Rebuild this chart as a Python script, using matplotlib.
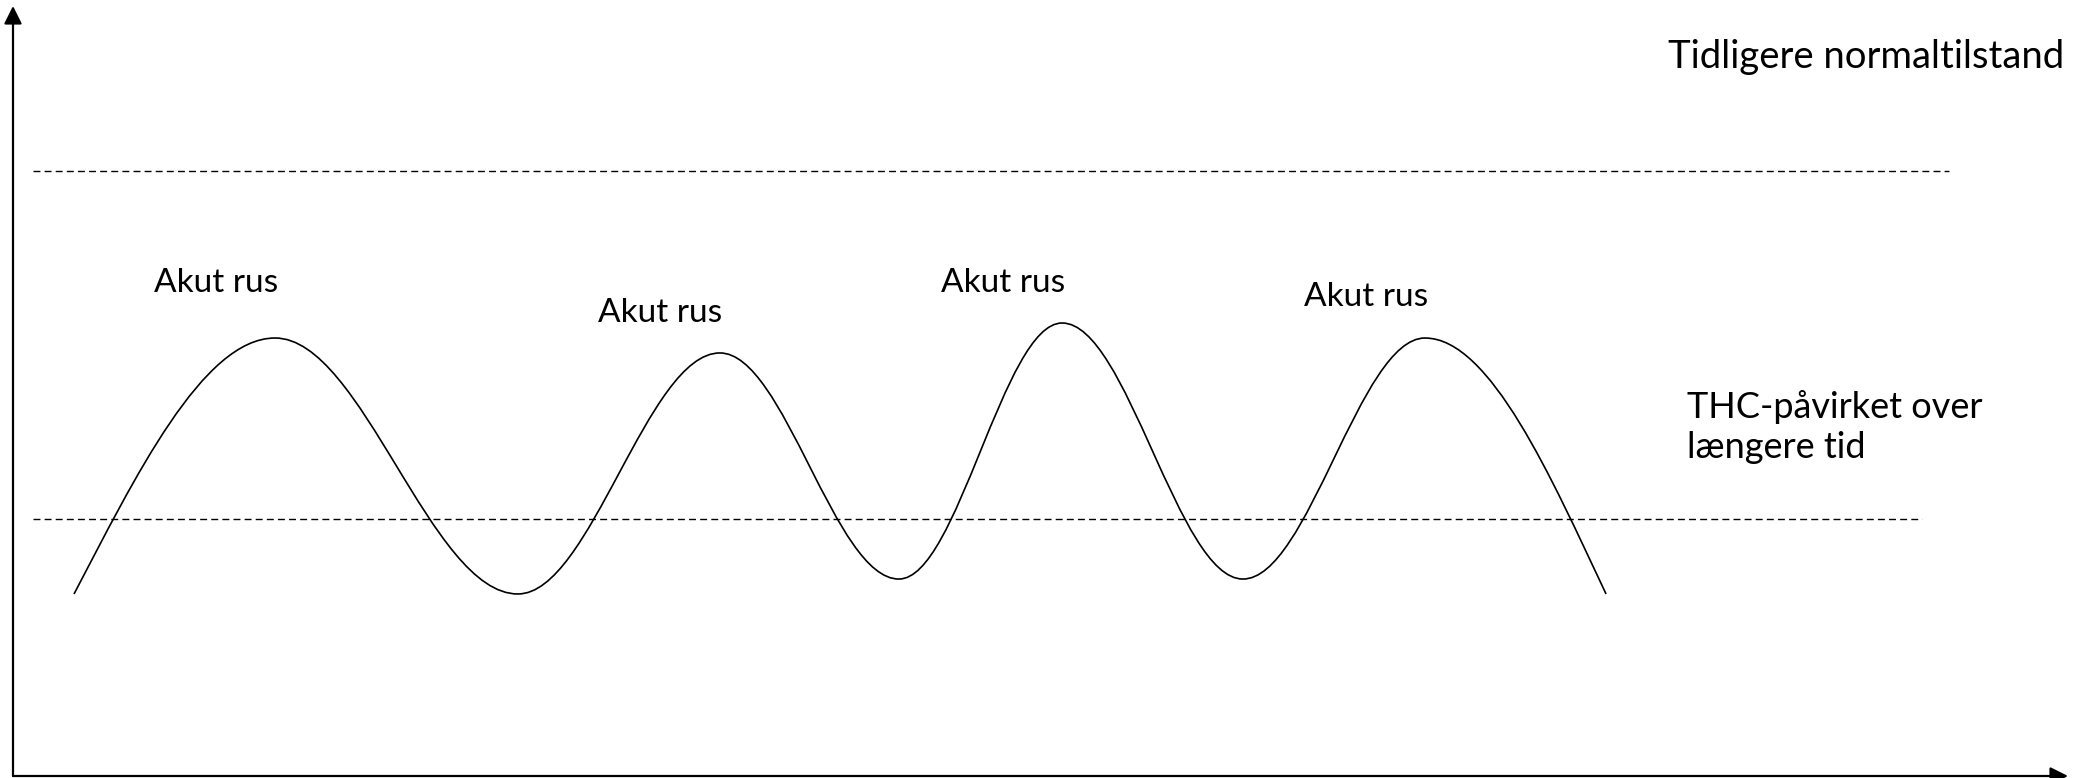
import matplotlib
matplotlib.use("Agg")
import matplotlib.pyplot as plt
from matplotlib.path import Path
from matplotlib.patches import PathPatch, FancyArrowPatch

plt.rcParams['font.family'] = ['Lato', 'DejaVu Sans']

# curve: start, alternating peaks/troughs, end  (time 0-100, level 0-100)
curve_x = [2.97, 12.75, 24.57, 34.40, 43.11, 51.05, 59.85, 68.71, 77.52]
curve_y = [23.64, 56.88, 23.64, 54.94, 25.58, 58.83, 25.58, 56.88, 23.64]

# reference levels
normal_level = 78.57
normal_span = (0.97, 94.2)
thc_level = 33.38
thc_span = (0.97, 92.9)

# peak labels
peak_labels = ["Akut rus", "Akut rus", "Akut rus", "Akut rus"]
peak_label_x = [6.86, 28.47, 45.16, 62.82]
peak_label_y = [62.86, 58.96, 62.86, 61.04]

# level labels (one entry per line)
level_texts = ["Tidligere normaltilstand", "THC-påvirket over", "længere tid"]
level_text_x = [80.54, 81.46, 81.46]
level_text_y = [91.95, 46.49, 41.30]
level_text_size = [27.5, 26, 26]

W, H = 2082, 778
fig = plt.figure(figsize=(W / 100, H / 100), dpi=100)
ax = fig.add_axes([0, 0, 1, 1])
# axis origin at pixel (13, 776); 100 units = arrow tips
ax.set_xlim(-13 / 20.55, (W - 13) / 20.55)
ax.set_ylim(-2 / 7.7, (H - 2) / 7.7)
ax.axis('off')

# axes with arrows
for end in [(100, 0), (0, 100)]:
    ax.add_patch(FancyArrowPatch((0, 0), end, arrowstyle='-|>,head_length=0.6,head_width=0.3',
                                 mutation_scale=18, color='black', lw=1.6,
                                 shrinkA=0, shrinkB=0))

# dashed levels
ax.plot(normal_span, [normal_level] * 2, color='black', lw=1.0, ls=(0, (5, 3)))
ax.plot(thc_span, [thc_level] * 2, color='black', lw=1.0, ls=(0, (5, 3)))

# smooth curve through extremes (bezier, flat tangents at peaks/troughs)
k = 0.36
verts = [(curve_x[0], curve_y[0])]
codes = [Path.MOVETO]
n = len(curve_x)
for i in range(n - 1):
    x0, y0, x1, y1 = curve_x[i], curve_y[i], curve_x[i + 1], curve_y[i + 1]
    d = x1 - x0
    if i == 0:
        s = 1.5 * (y1 - y0) / d
        c1 = (x0 + 0.3 * d, y0 + 0.3 * d * s)
    else:
        c1 = (x0 + k * d, y0)
    if i == n - 2:
        s = 1.5 * (y1 - y0) / d
        c2 = (x1 - 0.3 * d, y1 - 0.3 * d * s)
    else:
        c2 = (x1 - k * d, y1)
    verts += [c1, c2, (x1, y1)]
    codes += [Path.CURVE4] * 3
ax.add_patch(PathPatch(Path(verts, codes), fill=False, lw=1.2, edgecolor='black'))

for t, x, y in zip(peak_labels, peak_label_x, peak_label_y):
    ax.text(x, y, t, fontsize=24, ha='left', va='baseline')
for t, x, y, s in zip(level_texts, level_text_x, level_text_y, level_text_size):
    ax.text(x, y, t, fontsize=s, ha='left', va='baseline')

fig.savefig("out.png", dpi=100, facecolor='white')
